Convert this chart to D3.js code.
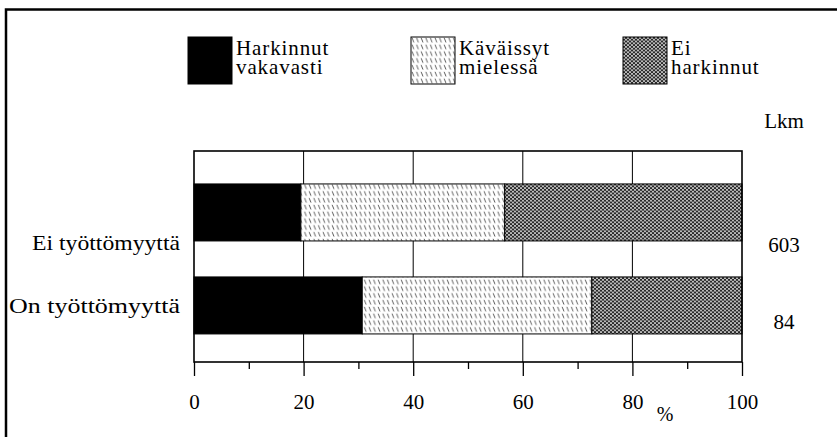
<!DOCTYPE html>
<html>
<head>
<meta charset="utf-8">
<script src="https://cdn.jsdelivr.net/npm/d3@7/dist/d3.min.js"></script>
<style>
body{margin:0;background:#fff;}
svg text{font-family:"Liberation Serif","Times New Roman",serif;fill:#000;}
</style>
</head>
<body>
<div id="chart"></div>
<script>
// data
var categories=["Ei työttömyyttä","On työttömyyttä"];
var seriesNames=[["Harkinnut","vakavasti"],["Käväissyt","mielessä"],["Ei","harkinnut"]];
var harkinnut=[19.5,30.7];
var kavaissyt=[37.2,41.9];
var eiHarkinnut=[43.3,27.4];
var lkm=[603,84];
var majorTicks=[0,20,40,60,80,100];
var minorTicks=[10,30,50,70,90];

var W=837,H=437;
var pLeft=194,pRight=742,pTop=151,pBottom=362;
var serif="Liberation Serif";

var svg=d3.select("#chart").append("svg").attr("width",W).attr("height",H)
	.attr("font-family",serif);
var defs=svg.append("defs");

// dash pattern
var pDash=defs.append("pattern").attr("id","pDash").attr("patternUnits","userSpaceOnUse")
	.attr("width",4.6).attr("height",6.8);
pDash.append("rect").attr("width",4.6).attr("height",6.8).attr("fill","#fff");
pDash.append("line").attr("x1",1).attr("y1",0.8).attr("x2",2.8).attr("y2",5.4)
	.attr("stroke","#333").attr("stroke-width",0.8);

// dense dotted pattern
var pDot=defs.append("pattern").attr("id","pDot").attr("patternUnits","userSpaceOnUse")
	.attr("width",4).attr("height",3.6);
pDot.append("rect").attr("width",4).attr("height",3.6).attr("fill","#2a2a2a");
pDot.append("circle").attr("cx",1).attr("cy",0.9).attr("r",0.9).attr("fill","#fff");
pDot.append("circle").attr("cx",3).attr("cy",2.7).attr("r",0.9).attr("fill","#fff");

var fills=["#000","url(#pDash)","url(#pDot)"];

// outer frame
svg.append("rect").attr("x",6).attr("y",9.5).attr("width",W).attr("height",H)
	.attr("fill","none").attr("stroke","#000").attr("stroke-width",2.5);

var x=d3.scaleLinear().domain([0,100]).range([pLeft,pRight]);
var y=d3.scaleBand().domain(categories).range([pTop,pBottom])
	.paddingInner(0.387).paddingOuter(0.328).align(0.54);

// gridlines
svg.append("g").selectAll("line").data(majorTicks.slice(1,-1)).enter().append("line")
	.attr("x1",function(d){return x(d);}).attr("x2",function(d){return x(d);})
	.attr("y1",pTop).attr("y2",pBottom).attr("stroke","#000").attr("stroke-width",1);

// stacked bars
var table=categories.map(function(c,i){
	return {cat:c,vals:[harkinnut[i],kavaissyt[i],eiHarkinnut[i]]};
});
var stack=d3.stack().keys([0,1,2]).value(function(d,k){return d.vals[k];});
var layers=stack(table);
svg.append("g").selectAll("g").data(layers).enter().append("g")
	.attr("fill",function(d,i){return fills[i];})
	.selectAll("rect").data(function(d){return d;}).enter().append("rect")
	.attr("x",function(d){return x(d[0]);})
	.attr("width",function(d){return x(d[1])-x(d[0]);})
	.attr("y",function(d){return y(d.data.cat);})
	.attr("height",y.bandwidth())
	.attr("stroke","#000").attr("stroke-width",1);

// plot frame
svg.append("rect").attr("x",pLeft).attr("y",pTop).attr("width",pRight-pLeft).attr("height",pBottom-pTop)
	.attr("fill","none").attr("stroke","#000").attr("stroke-width",1.6);

// axes
var axMajor=d3.axisBottom(x).tickValues(majorTicks).tickSize(14).tickPadding(18)
	.tickFormat(d3.format("d"));
var gMaj=svg.append("g").attr("transform","translate(0,"+pBottom+")").call(axMajor);
gMaj.attr("font-family",serif).attr("font-size",21);
gMaj.select(".domain").remove();
gMaj.selectAll("line").attr("stroke","#000").attr("stroke-width",1.3);
var axMinor=d3.axisBottom(x).tickValues(minorTicks).tickSize(7).tickFormat("");
var gMin=svg.append("g").attr("transform","translate(0,"+pBottom+")").call(axMinor);
gMin.select(".domain").remove();
gMin.selectAll("line").attr("stroke","#000").attr("stroke-width",1.3);

svg.append("text").attr("x",x(90)-22).attr("y",421).attr("font-size",20)
	.attr("text-anchor","middle").text("%");

// category labels
var labOff=[31,1], labLen=[148,171];
svg.append("g").selectAll("text").data(categories).enter().append("text")
	.attr("x",pLeft-14).attr("text-anchor","end").attr("font-size",22)
	.attr("y",function(d,i){return y(d)+y.bandwidth()/2+labOff[i]+7;})
	.attr("textLength",function(d,i){return labLen[i];})
	.attr("lengthAdjust","spacingAndGlyphs")
	.text(function(d){return d;});

// Lkm
svg.append("text").attr("x",784).attr("y",128).attr("font-size",21)
	.attr("text-anchor","middle").text("Lkm");
var lkmOff=[33,17];
svg.append("g").selectAll("text").data(lkm).enter().append("text")
	.attr("x",784).attr("text-anchor","middle").attr("font-size",21)
	.attr("y",function(d,i){return y(categories[i])+y.bandwidth()/2+lkmOff[i]+7;})
	.text(function(d){return d;});

// legend
var legX=[188,411,623];
var leg=svg.append("g").selectAll("g").data(seriesNames).enter().append("g")
	.attr("transform",function(d,i){return "translate("+legX[i]+",37)";});
leg.append("rect").attr("width",44).attr("height",47)
	.attr("fill",function(d,i){return fills[i];})
	.attr("stroke","#000").attr("stroke-width",1);
leg.append("text").attr("x",48).attr("y",18).attr("font-size",21)
	.attr("letter-spacing",0.9)
	.text(function(d){return d[0];});
leg.append("text").attr("x",48).attr("y",37).attr("font-size",21)
	.attr("letter-spacing",0.9)
	.text(function(d){return d[1];});
</script>
</body>
</html>
